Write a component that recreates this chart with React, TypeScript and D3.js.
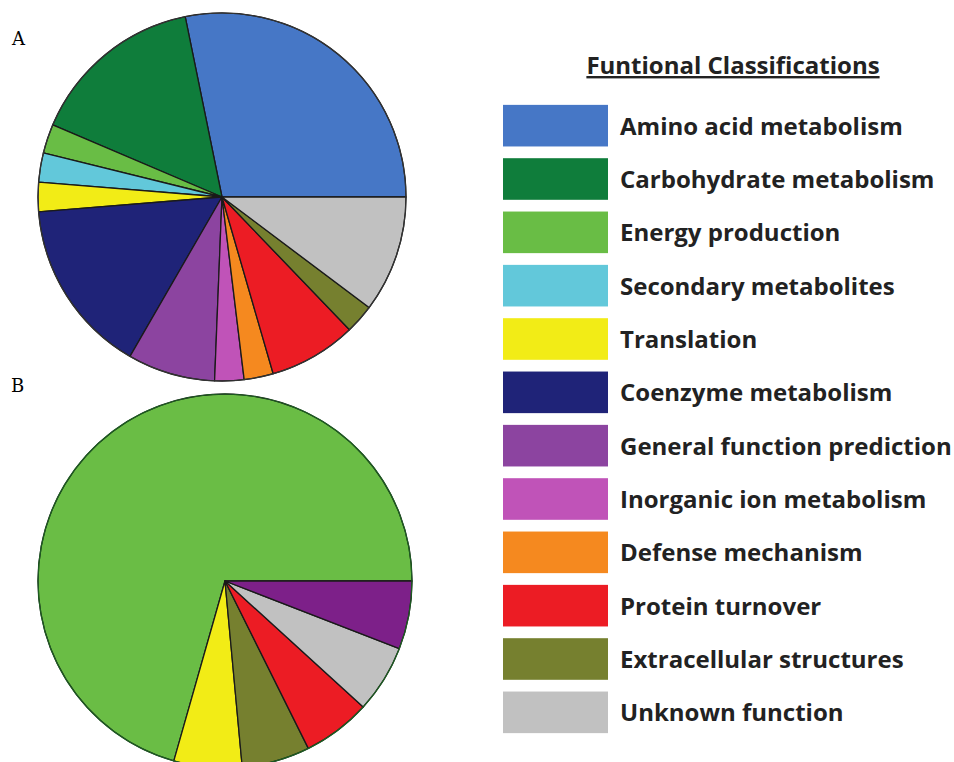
import React, { useEffect, useRef } from 'react';
import * as d3 from 'd3';

// legend categories, in legend order
const categories = [
	'Amino acid metabolism',
	'Carbohydrate metabolism',
	'Energy production',
	'Secondary metabolites',
	'Translation',
	'Coenzyme metabolism',
	'General function prediction',
	'Inorganic ion metabolism',
	'Defense mechanism',
	'Protein turnover',
	'Extracellular structures',
	'Unknown function',
];
const colors = ['#4677c6', '#0f7d3b', '#69bd45', '#62c8da', '#f2ec16', '#1f2378', '#8c44a0', '#c053b8', '#f5891f', '#ec1c24', '#76802f', '#c1c1c1'];

// panel A: counts per category (legend order)
const valuesA = [11, 6, 1, 1, 1, 6, 3, 1, 1, 3, 1, 4];

// panel B: only some categories, drawn in this order
const categoriesB = ['Energy production', 'Translation', 'Extracellular structures', 'Protein turnover', 'Unknown function', 'General function prediction'];
const valuesB = [12, 1, 1, 1, 1, 1];
const colorsB = ['#6abd45', '#f2ec16', '#76802f', '#ec1c24', '#c1c1c1', '#7d2089'];

const title = 'Funtional Classifications';

export default function App() {
	const ref = useRef<SVGSVGElement>(null);

	useEffect(() => {
		if (ref.current) drawChart(ref.current);
	}, []);

	return <svg ref={ref} width={954} height={762} style={{ position: 'absolute', left: 0, top: 0, background: '#fff' }} />;
}

const drawPie = (svg: any, cx: number, cy: number, r: number, names: string[], values: number[], fill: (d: any, i: number) => string, edge: string) => {
	// counter-clockwise from 3 o'clock
	const pie = d3
		.pie<number>()
		.sort(null)
		.value((d) => d)
		.startAngle(Math.PI / 2)
		.endAngle(Math.PI / 2 - 2 * Math.PI);
	const arc = d3.arc<any>().innerRadius(0).outerRadius(r);

	const g = svg.append('g').attr('transform', `translate(${cx},${cy})`);
	g.selectAll('path')
		.data(pie(values))
		.enter()
		.append('path')
		.attr('d', arc)
		.attr('fill', fill)
		.attr('stroke', '#1a1a1a')
		.attr('stroke-width', 1.3)
		.attr('stroke-linejoin', 'round')
		.append('title')
		.text((d: any, i: number) => `${names[i]}: ${d.value}`);

	g.append('circle').attr('r', r).attr('fill', 'none').attr('stroke', edge).attr('stroke-width', 1.2);
};

const drawChart = (element: SVGSVGElement) => {
	const svg = d3.select(element);
	svg.selectAll('*').remove();

	// panel letters
	svg.append('text').attr('x', 12).attr('y', 45).text('A').style('font-family', '"DejaVu Serif", serif').style('font-size', '18px');
	svg.append('text').attr('x', 11).attr('y', 392).text('B').style('font-family', '"DejaVu Serif", serif').style('font-size', '18px');

	drawPie(svg, 222, 197, 184, categories, valuesA, (d, i) => colors[i], '#333');
	drawPie(svg, 225, 581, 187, categoriesB, valuesB, (d, i) => colorsB[i], '#1d5e22');

	// legend
	const font = '"Open Sans", Lato, sans-serif';
	svg
		.append('text')
		.attr('x', 733)
		.attr('y', 74)
		.attr('text-anchor', 'middle')
		.text(title)
		.style('font-family', font)
		.style('font-weight', 700)
		.style('font-size', '24px')
		.style('fill', '#222')
		.style('text-decoration', 'underline');

	const y = d3
		.scaleBand()
		.domain(categories)
		.range([99, 739])
		.paddingInner(0.22)
		.paddingOuter(0.11);

	const rows = svg
		.selectAll('g.row')
		.data(categories)
		.enter()
		.append('g')
		.attr('class', 'row')
		.attr('transform', (d) => `translate(0,${y(d)})`);

	rows
		.append('rect')
		.attr('x', 503)
		.attr('width', 105)
		.attr('height', y.bandwidth())
		.attr('fill', (d, i) => colors[i]);

	rows
		.append('text')
		.attr('x', 620)
		.attr('y', y.bandwidth() / 2 + 9)
		.text((d) => d)
		.style('font-family', font)
		.style('font-weight', 700)
		.style('font-size', '24px')
		.style('fill', '#222');
};
